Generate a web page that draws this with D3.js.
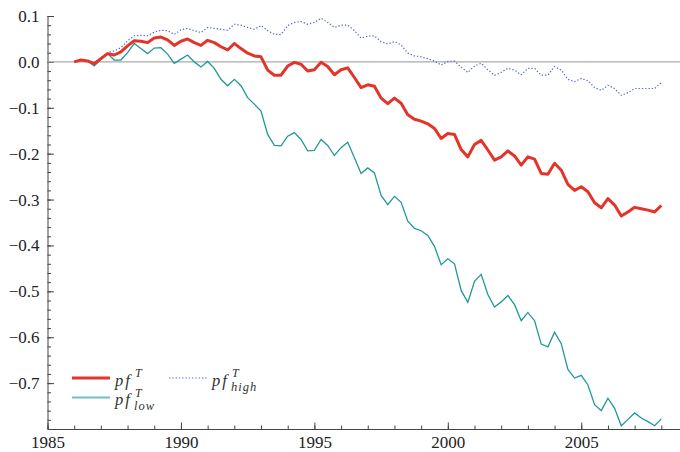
<!DOCTYPE html>
<html>
<head>
<meta charset="utf-8">
<script src="https://cdn.jsdelivr.net/npm/d3@7"></script>
<style>
  body { margin: 0; background: #fff; }
  svg { display: block; }
  .axis path, .axis line { stroke: #444; }
  .axis text { fill: #222; }
</style>
</head>
<body>
<div id="chart"></div>
<script>
// quarterly observations, 1986Q1 .. 2008Q1
const START_YEAR = 1986;
const END_YEAR = 2008;

const PF = [
  0, 0.004, 0.002, -0.004, 0.007, 0.018, 0.015, 0.022, 0.035, 0.046,
  0.045, 0.042, 0.052, 0.054, 0.048, 0.036, 0.045, 0.050, 0.042, 0.036,
  0.047, 0.042, 0.033, 0.026, 0.040, 0.029, 0.019, 0.013, 0.011, -0.018,
  -0.029, -0.029, -0.009, -0.001, -0.005, -0.020, -0.017, -0.001, -0.010, -0.028,
  -0.017, -0.013, -0.034, -0.056, -0.050, -0.053, -0.079, -0.091, -0.079, -0.090,
  -0.115, -0.125, -0.129, -0.135, -0.145, -0.167, -0.156, -0.158, -0.191, -0.207,
  -0.180, -0.171, -0.192, -0.214, -0.207, -0.194, -0.205, -0.225, -0.207, -0.212,
  -0.243, -0.245, -0.221, -0.236, -0.267, -0.280, -0.272, -0.283, -0.307, -0.318,
  -0.298, -0.312, -0.336, -0.327, -0.317, -0.320, -0.323, -0.327, -0.313
];

const PF_LOW = [
  0, 0.005, 0.002, -0.009, 0.005, 0.018, 0.004, 0.004, 0.020, 0.040,
  0.029, 0.018, 0.030, 0.031, 0.017, -0.003, 0.006, 0.015, 0, -0.011,
  0.001, -0.014, -0.038, -0.052, -0.038, -0.052, -0.078, -0.092, -0.107, -0.158,
  -0.182, -0.183, -0.162, -0.154, -0.169, -0.194, -0.193, -0.169, -0.182, -0.204,
  -0.187, -0.175, -0.209, -0.243, -0.231, -0.242, -0.291, -0.311, -0.293, -0.306,
  -0.347, -0.363, -0.368, -0.378, -0.402, -0.442, -0.429, -0.440, -0.498, -0.524,
  -0.478, -0.463, -0.507, -0.534, -0.523, -0.509, -0.529, -0.564, -0.546, -0.564,
  -0.615, -0.621, -0.589, -0.614, -0.670, -0.689, -0.683, -0.704, -0.747, -0.760,
  -0.733, -0.755, -0.793, -0.779, -0.765, -0.776, -0.784, -0.793, -0.778
];

const PF_HIGH = [
  0, 0.005, 0.002, -0.002, 0.009, 0.020, 0.024, 0.031, 0.046, 0.057,
  0.058, 0.057, 0.065, 0.069, 0.068, 0.060, 0.070, 0.073, 0.068, 0.064,
  0.075, 0.073, 0.071, 0.069, 0.082, 0.080, 0.075, 0.071, 0.079, 0.068,
  0.060, 0.060, 0.079, 0.086, 0.088, 0.082, 0.086, 0.095, 0.086, 0.075,
  0.080, 0.080, 0.068, 0.052, 0.056, 0.057, 0.044, 0.039, 0.044, 0.037,
  0.019, 0.013, 0.011, 0.007, 0.002, -0.007, 0.001, 0.002, -0.012, -0.023,
  -0.009, -0.003, -0.017, -0.029, -0.023, -0.014, -0.018, -0.028, -0.014, -0.014,
  -0.029, -0.029, -0.010, -0.018, -0.038, -0.043, -0.036, -0.041, -0.056, -0.062,
  -0.051, -0.058, -0.073, -0.067, -0.058, -0.058, -0.058, -0.058, -0.045
];

const X_TICKS = [1985, 1990, 1995, 2000, 2005];
const Y_TICKS = [0.1, 0.0, -0.1, -0.2, -0.3, -0.4, -0.5, -0.6, -0.7];

const WIDTH = 680;
const HEIGHT = 452;
const SERIF = "'Liberation Serif', 'Times New Roman', Times, serif";
const COLORS = { pf: "#e3342a", low: "#1f9996", high: "#5263cc" };

const quarters = d3.range(START_YEAR, END_YEAR + 0.001, 0.25);

const x = d3.scaleLinear().domain([1985, 2008.7]).range([47.5, 680]);
const y = d3.scaleLinear().domain([-0.8, 0.1]).range([429, 16]);

const svg = d3.select("#chart").append("svg")
  .attr("width", WIDTH)
  .attr("height", HEIGHT)
  .style("font-family", SERIF);

// minor ticks
svg.append("g")
  .attr("class", "axis")
  .attr("transform", `translate(0,${y(-0.8)})`)
  .call(d3.axisBottom(x).tickValues(d3.range(1985, 2009, 1)).tickSize(-3.5).tickFormat(""))
  .call(g => g.select(".domain").remove());

svg.append("g")
  .attr("class", "axis")
  .attr("transform", `translate(${x(1985)},0)`)
  .call(d3.axisLeft(y).tickValues(d3.range(-0.8, 0.101, 0.02)).tickSize(-3.5).tickFormat(""))
  .call(g => g.select(".domain").remove());

// major ticks
svg.append("g")
  .attr("class", "axis")
  .attr("transform", `translate(0,${y(-0.8)})`)
  .call(d3.axisBottom(x).tickValues(X_TICKS).tickSize(-6.5).tickSizeOuter(0).tickPadding(7).tickFormat(d3.format("d")))
  .attr("font-family", SERIF)
  .attr("font-size", 17);

svg.append("g")
  .attr("class", "axis")
  .attr("transform", `translate(${x(1985)},0)`)
  .call(d3.axisLeft(y).tickValues(Y_TICKS).tickSize(-6.5).tickSizeOuter(0).tickPadding(8).tickFormat(d3.format(".1f")))
  .attr("font-family", SERIF)
  .attr("font-size", 17);

// zero line
svg.append("line")
  .attr("x1", x(1985)).attr("x2", WIDTH)
  .attr("y1", y(0)).attr("y2", y(0))
  .attr("stroke", "#aaa").attr("stroke-width", 1.4);

const line = values => d3.line()
  .x((d, i) => x(quarters[i]))
  .y(d => y(d))(values);

svg.append("path")
  .attr("d", line(PF_HIGH))
  .attr("fill", "none")
  .attr("stroke", COLORS.high)
  .attr("stroke-width", 1.2)
  .attr("stroke-dasharray", "1.3,2");

svg.append("path")
  .attr("d", line(PF_LOW))
  .attr("fill", "none")
  .attr("stroke", COLORS.low)
  .attr("stroke-width", 1.3);

svg.append("path")
  .attr("d", line(PF))
  .attr("fill", "none")
  .attr("stroke", COLORS.pf)
  .attr("stroke-width", 3)
  .attr("stroke-linejoin", "round");

// legend
const legend = svg.append("g").attr("fill", "#333").attr("font-family", SERIF);

function legendEntry(x0, yLine, color, width, dash, sub) {
  legend.append("line")
    .attr("x1", x0).attr("x2", x0 + 38)
    .attr("y1", yLine).attr("y2", yLine)
    .attr("stroke", color).attr("stroke-width", width)
    .attr("stroke-dasharray", dash);
  const tx = x0 + 43;
  const base = yLine + 7.5;
  legend.append("text")
    .attr("x", tx).attr("y", base)
    .attr("font-style", "italic").attr("font-size", 16.5)
    .attr("letter-spacing", 2)
    .text("pf");
  legend.append("text")
    .attr("x", tx + 20).attr("y", base - 8.5)
    .attr("font-style", "italic").attr("font-size", 12)
    .text("T");
  if (sub) {
    legend.append("text")
      .attr("x", tx + 19).attr("y", base + 5)
      .attr("font-style", "italic").attr("font-size", 12.5)
      .attr("letter-spacing", 1)
      .text(sub);
  }
}

legendEntry(72, 378, COLORS.pf, 3, null, null);
legendEntry(72, 397.5, "#6fc0be", 2.2, null, "low");
legendEntry(169, 378, COLORS.high, 1.2, "1.3,2", "high");
</script>
</body>
</html>
